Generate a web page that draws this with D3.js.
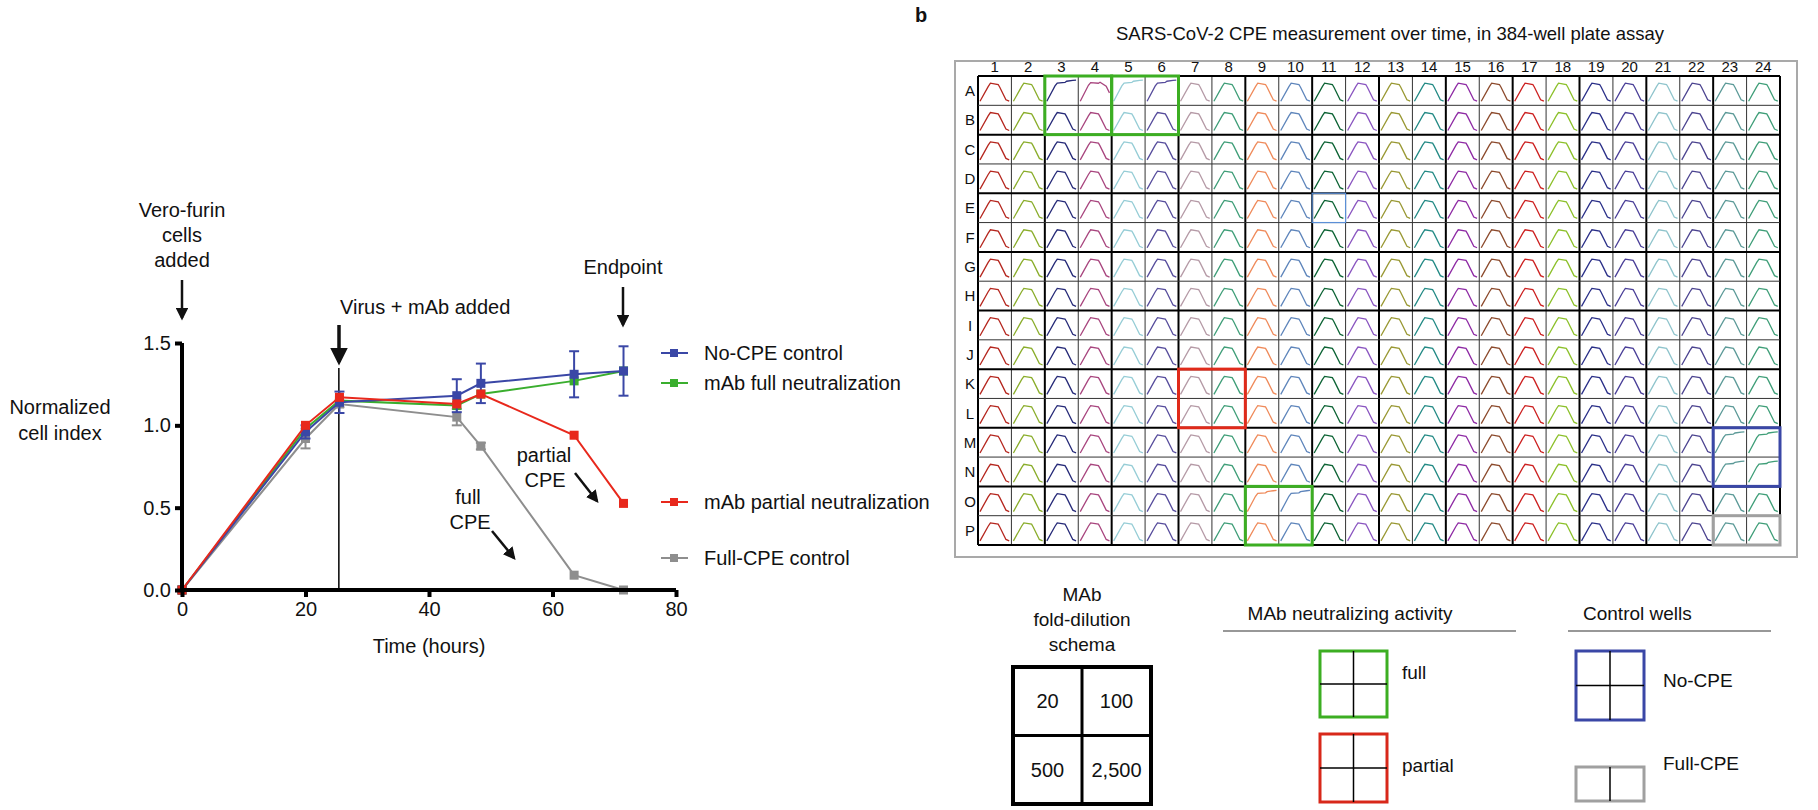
<!DOCTYPE html>
<html>
<head>
<meta charset="utf-8">
<script src="https://cdn.jsdelivr.net/npm/d3@7"></script>
<style>
  body { margin: 0; background: #fff; }
  text { font-family: "Liberation Sans", Arial, sans-serif; fill: #111; }
</style>
</head>
<body>
<div id="main"></div>
<script>
// ---- panel a data ----
const timeHours   = [0, 20, 25.5, 44.5, 48.4, 63.5, 71.5];
const noCPE       = [0, 0.96, 1.14, 1.18, 1.255, 1.31, 1.33];
const noCPEErr    = [0, 0.04, 0.065, 0.10, 0.12, 0.14, 0.15];
const fullNeut    = [0, 0.98, 1.15, 1.12, 1.19, 1.27, 1.33];
const partialNeut = [0, 1.00, 1.17, 1.13, 1.19, 0.94, 0.526];
const fullCPE     = [0, 0.92, 1.13, 1.05, 0.874, 0.09, 0];
const fullCPEErr  = [0, 0.06, 0.02, 0.05, 0.02, 0, 0];
const xTicks = [0, 20, 40, 60, 80];
const yTicks = [0, 0.5, 1.0, 1.5];

// ---- panel b data ----
const plateRows = ["A","B","C","D","E","F","G","H","I","J","K","L","M","N","O","P"];
const plateCols = [1,2,3,4,5,6,7,8,9,10,11,12,13,14,15,16,17,18,19,20,21,22,23,24];
const colColors = ["#b5261e","#8aad2b","#262a78","#a8457e","#96cdd6","#564c9c",
                   "#b59aa6","#3f9e78","#ef8a5a","#5e85bb","#0c6334","#8a55c0",
                   "#999833","#238a85","#8e2aa4","#8c4a2c","#cc2020","#8cc02a",
                   "#2a2f88","#4a3f98","#8fc4cc","#4c4490","#5c9a98","#3f9e78"];
const fullWells    = ["A3","A5","A6","O9","O10"];
const partialWells = ["A4"];
const noCPEWells   = ["M23","M24","N23","N24"];
const dilutions = ["20","100","500","2,500"];

const C = { blue: "#3a47a6", green: "#3aae2e", red: "#e8281c", gray: "#8e8e8e" };

const svg = d3.select("#main").append("svg")
  .attr("width", 1818).attr("height", 810);

function arrow(x1, y1, x2, y2, w) {
  svg.append("line").attr("x1", x1).attr("y1", y1).attr("x2", x2).attr("y2", y2)
    .attr("stroke", "#111").attr("stroke-width", w || 2.5)
    .attr("marker-end", "url(#ah)");
}
svg.append("defs").append("marker")
  .attr("id", "ah").attr("viewBox", "0 0 10 10").attr("refX", 8).attr("refY", 5)
  .attr("markerWidth", 5).attr("markerHeight", 5).attr("orient", "auto")
  .append("path").attr("d", "M0,0L10,5L0,10Z").attr("fill", "#111");

// ================= panel a =================
const x = d3.scaleLinear().domain([0, 80]).range([182, 676]);
const y = d3.scaleLinear().domain([0, 1.5]).range([590, 343]);

const gA = svg.append("g");

const series = [
  { name: "Full-CPE control", vals: fullCPE, err: fullCPEErr, color: C.gray, ly: 558 },
  { name: "mAb full neutralization", vals: fullNeut, err: null, color: C.green, ly: 383 },
  { name: "No-CPE control", vals: noCPE, err: noCPEErr, color: C.blue, ly: 353 },
  { name: "mAb partial neutralization", vals: partialNeut, err: null, color: C.red, ly: 502 }
];

// virus addition line
gA.append("line").attr("x1", x(25.4)).attr("x2", x(25.4))
  .attr("y1", 368).attr("y2", y(0)).attr("stroke", "#111").attr("stroke-width", 1.6);

const line = d3.line().x((d, i) => x(timeHours[i])).y(d => y(d));

series.forEach(s => {
  const g = gA.append("g");
  if (s.err) {
    s.vals.forEach((v, i) => {
      const e = s.err[i];
      if (!e) return;
      const cx = x(timeHours[i]);
      g.append("line").attr("x1", cx).attr("x2", cx).attr("y1", y(v - e)).attr("y2", y(v + e))
        .attr("stroke", s.color).attr("stroke-width", 2);
      [v - e, v + e].forEach(t => g.append("line")
        .attr("x1", cx - 5).attr("x2", cx + 5).attr("y1", y(t)).attr("y2", y(t))
        .attr("stroke", s.color).attr("stroke-width", 2));
    });
  }
  g.append("path").attr("d", line(s.vals)).attr("fill", "none")
    .attr("stroke", s.color).attr("stroke-width", 2);
  g.selectAll("rect").data(s.vals).enter().append("rect")
    .attr("x", (d, i) => x(timeHours[i]) - 4.5).attr("y", d => y(d) - 4.5)
    .attr("width", 9).attr("height", 9).attr("fill", s.color);
});

// axes
const xAxis = gA.append("g").attr("transform", `translate(0,${y(0)})`)
  .call(d3.axisBottom(x).tickValues(xTicks).tickSize(7).tickPadding(5).tickFormat(d3.format("d")));
const yAxis = gA.append("g").attr("transform", `translate(${x(0)},0)`)
  .call(d3.axisLeft(y).tickValues(yTicks).tickSize(7).tickPadding(4).tickFormat(d3.format(".1f")));
[xAxis, yAxis].forEach(a => {
  a.select(".domain").attr("stroke", "#000").attr("stroke-width", 4);
  a.selectAll(".tick line").attr("stroke", "#000").attr("stroke-width", 4);
  a.selectAll(".tick text").attr("font-size", 20).attr("fill", "#111")
    .attr("font-family", "Liberation Sans, Arial, sans-serif");
});
xAxis.select(".domain").attr("d", `M${x(0)},0H${x(80)}`);
yAxis.select(".domain").attr("d", `M0,${y(0)}V${y(1.5)}`);

gA.append("text").attr("x", 429).attr("y", 653).attr("text-anchor", "middle")
  .attr("font-size", 20).text("Time (hours)");
gA.append("text").attr("x", 60).attr("y", 414).attr("text-anchor", "middle")
  .attr("font-size", 20).text("Normalized");
gA.append("text").attr("x", 60).attr("y", 440).attr("text-anchor", "middle")
  .attr("font-size", 20).text("cell index");

// annotations
["Vero-furin", "cells", "added"].forEach((t, i) =>
  gA.append("text").attr("x", 182).attr("y", 217 + i * 25).attr("text-anchor", "middle")
    .attr("font-size", 20).text(t));
arrow(182, 280, 182, 318, 2.5);
gA.append("text").attr("x", 340).attr("y", 314).attr("font-size", 20).text("Virus + mAb added");
arrow(339, 325, 339, 362, 3.5);
gA.append("text").attr("x", 623).attr("y", 274).attr("text-anchor", "middle")
  .attr("font-size", 20).text("Endpoint");
arrow(623, 287, 623, 325, 2.5);
gA.append("text").attr("x", 544).attr("y", 462).attr("text-anchor", "middle").attr("font-size", 20).text("partial");
gA.append("text").attr("x", 545).attr("y", 487).attr("text-anchor", "middle").attr("font-size", 20).text("CPE");
arrow(575, 473, 597, 501, 2.5);
gA.append("text").attr("x", 468).attr("y", 504).attr("text-anchor", "middle").attr("font-size", 20).text("full");
gA.append("text").attr("x", 470).attr("y", 529).attr("text-anchor", "middle").attr("font-size", 20).text("CPE");
arrow(492, 531, 514, 558, 2.5);

// legend
const legOrder = [series[2], series[1], series[3], series[0]];
legOrder.forEach(s => {
  const g = gA.append("g");
  g.append("line").attr("x1", 661).attr("x2", 688).attr("y1", s.ly).attr("y2", s.ly)
    .attr("stroke", s.color).attr("stroke-width", 2);
  g.append("rect").attr("x", 670).attr("y", s.ly - 4).attr("width", 8).attr("height", 8)
    .attr("fill", s.color);
  g.append("text").attr("x", 704).attr("y", s.ly + 7).attr("font-size", 20).text(s.name);
});

// ================= panel b =================
const gB = svg.append("g");
gB.append("text").attr("x", 915).attr("y", 22).attr("font-size", 20)
  .attr("font-weight", "bold").text("b");
gB.append("text").attr("x", 1390).attr("y", 40).attr("text-anchor", "middle")
  .attr("font-size", 18.5).text("SARS-CoV-2 CPE measurement over time, in 384-well plate assay");

gB.append("rect").attr("x", 955).attr("y", 61).attr("width", 842).attr("height", 496)
  .attr("fill", "none").attr("stroke", "#a9a9a9").attr("stroke-width", 2);

const cx = d3.scaleBand().domain(plateCols).range([978, 1780]);
const ry = d3.scaleBand().domain(plateRows).range([76, 545]);
const bw = cx.bandwidth(), bh = ry.bandwidth();

gB.selectAll(".colLab").data(plateCols).enter().append("text")
  .attr("x", d => cx(d) + bw / 2).attr("y", 72).attr("text-anchor", "middle")
  .attr("font-size", 15).text(d => d);
gB.selectAll(".rowLab").data(plateRows).enter().append("text")
  .attr("x", 970).attr("y", d => ry(d) + bh / 2 + 5.5).attr("text-anchor", "middle")
  .attr("font-size", 15).text(d => d);

// sparklines
const sx = d3.scaleLinear().domain([0, 72]).range([2, bw - 2]);
const sy = d3.scaleLinear().domain([0, 1.4]).range([bh * 0.86, bh * 0.1]);
const spark = d3.line().x((d, i) => sx(timeHours[i])).y(d => sy(d));

const wells = [];
plateRows.forEach(r => plateCols.forEach((c, ci) => wells.push({ r, c, ci, id: r + c })));
gB.selectAll(".well").data(wells).enter().append("path")
  .attr("transform", d => `translate(${cx(d.c)},${ry(d.r)})`)
  .attr("d", d => {
    let v = fullCPE;
    if (fullWells.includes(d.id) || noCPEWells.includes(d.id)) v = noCPE;
    else if (partialWells.includes(d.id)) v = partialNeut;
    return spark(v);
  })
  .attr("fill", "none").attr("stroke", d => colColors[d.ci]).attr("stroke-width", 1.3);

// grid lines
const gridG = gB.append("g");
for (let i = 0; i <= plateCols.length; i++) {
  const xx = 978 + i * bw;
  gridG.append("line").attr("x1", xx).attr("x2", xx).attr("y1", 76).attr("y2", 545)
    .attr("stroke", i % 2 === 0 ? "#000" : "#333").attr("stroke-width", i % 2 === 0 ? 2 : 1);
}
for (let j = 0; j <= plateRows.length; j++) {
  const yy = 76 + j * bh;
  gridG.append("line").attr("x1", 978).attr("x2", 1780).attr("y1", yy).attr("y2", yy)
    .attr("stroke", j % 2 === 0 ? "#000" : "#333").attr("stroke-width", j % 2 === 0 ? 2 : 1);
}

// highlight boxes
const boxes = [
  { r0: "A", c0: 3, r1: "B", c1: 4, color: "#3cae22" },
  { r0: "A", c0: 5, r1: "B", c1: 6, color: "#3cae22" },
  { r0: "K", c0: 7, r1: "L", c1: 8, color: "#e02a1a" },
  { r0: "O", c0: 9, r1: "P", c1: 10, color: "#3cae22" },
  { r0: "M", c0: 23, r1: "N", c1: 24, color: "#3a47a6" },
  { r0: "P", c0: 23, r1: "P", c1: 24, color: "#a0a0a0" }
];
boxes.forEach(b => {
  gB.append("rect").attr("x", cx(b.c0)).attr("y", ry(b.r0))
    .attr("width", cx(b.c1) + bw - cx(b.c0)).attr("height", ry(b.r1) + bh - ry(b.r0))
    .attr("fill", "none").attr("stroke", b.color).attr("stroke-width", 3);
});
gB.append("rect").attr("x", cx(11)).attr("y", ry("E")).attr("width", bw).attr("height", bh)
  .attr("fill", "none").attr("stroke", "#5b8fd6").attr("stroke-width", 1.2);

// ---- bottom legends ----
["MAb", "fold-dilution", "schema"].forEach((t, i) =>
  gB.append("text").attr("x", 1082).attr("y", 601 + i * 25).attr("text-anchor", "middle")
    .attr("font-size", 19).text(t));
const dx = d3.scaleBand().domain([0, 1]).range([1013, 1151]);
const dy = d3.scaleBand().domain([0, 1]).range([667, 804]);
gB.append("rect").attr("x", 1013).attr("y", 667).attr("width", 138).attr("height", 137)
  .attr("fill", "none").attr("stroke", "#000").attr("stroke-width", 4);
gB.append("line").attr("x1", dx(1)).attr("x2", dx(1)).attr("y1", 667).attr("y2", 804)
  .attr("stroke", "#000").attr("stroke-width", 3);
gB.append("line").attr("x1", 1013).attr("x2", 1151).attr("y1", dy(1)).attr("y2", dy(1))
  .attr("stroke", "#000").attr("stroke-width", 3);
dilutions.forEach((t, i) =>
  gB.append("text").attr("x", dx(i % 2) + dx.bandwidth() / 2).attr("y", dy(Math.floor(i / 2)) + dy.bandwidth() / 2 + 7)
    .attr("text-anchor", "middle").attr("font-size", 20).text(t));

function miniBox(x0, y0, w, h, color, rowsN) {
  gB.append("rect").attr("x", x0).attr("y", y0).attr("width", w).attr("height", h)
    .attr("fill", "none").attr("stroke", color).attr("stroke-width", 3);
  gB.append("line").attr("x1", x0 + w / 2).attr("x2", x0 + w / 2).attr("y1", y0).attr("y2", y0 + h)
    .attr("stroke", "#000").attr("stroke-width", 1.5);
  if (rowsN === 2)
    gB.append("line").attr("x1", x0).attr("x2", x0 + w).attr("y1", y0 + h / 2).attr("y2", y0 + h / 2)
      .attr("stroke", "#000").attr("stroke-width", 1.5);
}
gB.append("text").attr("x", 1350).attr("y", 620).attr("text-anchor", "middle")
  .attr("font-size", 19).text("MAb neutralizing activity");
gB.append("line").attr("x1", 1223).attr("x2", 1516).attr("y1", 631).attr("y2", 631)
  .attr("stroke", "#333").attr("stroke-width", 1.2);
miniBox(1320, 651, 67, 66, "#3cae22", 2);
gB.append("text").attr("x", 1402).attr("y", 679).attr("font-size", 19).text("full");
miniBox(1320, 734, 67, 68, "#d8281a", 2);
gB.append("text").attr("x", 1402).attr("y", 772).attr("font-size", 19).text("partial");

gB.append("text").attr("x", 1583).attr("y", 620).attr("font-size", 19).text("Control wells");
gB.append("line").attr("x1", 1568).attr("x2", 1771).attr("y1", 631).attr("y2", 631)
  .attr("stroke", "#333").attr("stroke-width", 1.2);
miniBox(1576, 651, 68, 69, "#3a47a6", 2);
gB.append("text").attr("x", 1663).attr("y", 687).attr("font-size", 19).text("No-CPE");
miniBox(1576, 767, 68, 34, "#a0a0a0", 1);
gB.append("text").attr("x", 1663).attr("y", 770).attr("font-size", 19).text("Full-CPE");
</script>
</body>
</html>
